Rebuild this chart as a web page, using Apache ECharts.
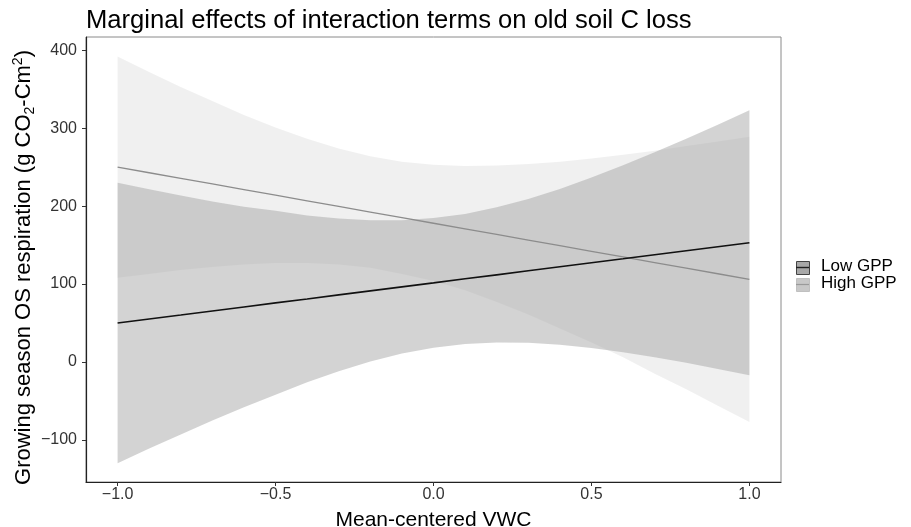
<!DOCTYPE html>
<html>
<head>
<meta charset="utf-8">
<script src="https://cdn.jsdelivr.net/npm/echarts@6/dist/echarts.min.js"></script>
<style>
  html, body { margin: 0; padding: 0; background: #fff; }
  #chart { width: 911px; height: 527px; }
</style>
</head>
<body>
<div id="chart"></div>
<script>
// values
const xs = [-1, -0.9, -0.8, -0.7, -0.6, -0.5, -0.4, -0.3, -0.2, -0.1, 0, 0.1, 0.2, 0.3, 0.4, 0.5, 0.6, 0.7, 0.8, 0.9, 1];

const lowLine  = [50, 55.2, 60.3, 65.5, 70.6, 75.8, 80.9, 86.1, 91.2, 96.4, 101.5, 106.7, 111.8, 117, 122.1, 127.3, 132.4, 137.6, 142.7, 147.9, 153];
const lowUpper = [230, 221.6, 213.6, 206, 199.1, 194, 188, 184, 182, 182, 184.6, 190, 198.4, 209, 222, 236.6, 252.4, 269, 286.6, 304.5, 323];
const lowLower = [-130, -111, -93, -75, -58, -42, -26, -12, 0.6, 11, 18.4, 23, 25, 24.7, 22, 18, 12.4, 6, -1, -9, -17];

const highLine  = [250, 242.8, 235.6, 228.4, 221.2, 214, 206.8, 199.6, 192.4, 185.2, 178, 170.8, 163.6, 156.4, 149.2, 142, 134.8, 127.6, 120.4, 113.2, 106];
const highUpper = [392, 372, 353, 335, 317, 301, 286.5, 274, 264, 257, 253, 251.4, 252, 254, 257, 261, 266, 271, 277, 283, 289];
const highLower = [108, 113, 118, 122, 125, 127, 127, 125, 121, 113, 104, 92, 77, 61, 43, 25, 6, -15, -35, -56, -77];

const xTicks = [-1, -0.5, 0, 0.5, 1];
const yTicks = [-100, 0, 100, 200, 300, 400];
const legendNames = ['Low GPP', 'High GPP'];

const FONT = '"Liberation Sans", Arial, Helvetica, sans-serif';

const chart = echarts.init(document.getElementById('chart'));

const fmtNum = v => (v < 0 ? '\u2212' : '') + Math.abs(v);

// ribbon drawn as one polygon through the axis scales
function band(name, lo, hi, fill, z) {
  return {
    type: 'custom',
    name: name,
    z: z,
    silent: true,
    data: xs.map((x, i) => [x, lo[i], hi[i]]),
    encode: { x: 0, y: [1, 2] },
    renderItem: function (params, api) {
      if (params.dataIndex !== 0) return null;
      const top = xs.map((x, i) => api.coord([x, hi[i]]));
      const bot = xs.map((x, i) => api.coord([x, lo[i]])).reverse();
      return {
        type: 'polygon',
        shape: { points: top.concat(bot) },
        style: { fill: fill }
      };
    }
  };
}

const option = {
  animation: false,
  backgroundColor: '#fff',
  textStyle: { fontFamily: FONT },
  title: {
    text: 'Marginal effects of interaction terms on old soil C loss',
    left: 81,
    top: 3,
    textStyle: { fontFamily: FONT, fontSize: 25.6, fontWeight: 'normal', color: '#000' }
  },
  grid: {
    left: 86, right: 130, top: 37, bottom: 45,
    outerBoundsMode: 'none',
    containLabel: false,
    show: true,
    borderColor: '#8a8a8a',
    borderWidth: 1
  },
  xAxis: {
    type: 'value',
    min: -1.1,
    max: 1.1,
    name: 'Mean-centered VWC',
    nameLocation: 'middle',
    nameGap: 28,
    nameMoveOverlap: false,
    nameTextStyle: { fontFamily: FONT, fontSize: 21, color: '#000' },
    splitLine: { show: false },
    axisLine: { show: true, onZero: false, lineStyle: { color: '#222', width: 1.2 } },
    axisTick: { show: true, length: 4, customValues: xTicks, lineStyle: { color: '#333' } },
    axisLabel: {
      customValues: xTicks,
      margin: 5,
      fontSize: 16,
      color: '#333',
      formatter: v => (v < 0 ? '\u2212' : '') + Math.abs(v).toFixed(1)
    }
  },
  yAxis: {
    type: 'value',
    min: -154,
    max: 417,
    name: 'Growing season OS respiration (g CO{sub|2}-Cm{sup|2})',
    nameLocation: 'middle',
    nameRotate: 90,
    nameGap: 49,
    nameMoveOverlap: false,
    nameTextStyle: {
      fontFamily: FONT, fontSize: 22, color: '#000', lineHeight: 26,
      padding: [0, 16, 0, 0],
      rich: {
        sub: { fontFamily: FONT, fontSize: 14, color: '#000', verticalAlign: 'bottom', lineHeight: 26 },
        sup: { fontFamily: FONT, fontSize: 14, color: '#000', verticalAlign: 'top', lineHeight: 26 }
      }
    },
    splitLine: { show: false },
    axisLine: { show: true, onZero: false, lineStyle: { color: '#222', width: 1.2 } },
    axisTick: { show: true, length: 4, customValues: yTicks, lineStyle: { color: '#333' } },
    axisLabel: {
      customValues: yTicks,
      margin: 9,
      fontSize: 16,
      color: '#333',
      formatter: fmtNum
    }
  },
  series: [
    band('High GPP band', highLower, highUpper, 'rgba(0,0,0,0.06)', 1),
    band('Low GPP band', lowLower, lowUpper, 'rgba(161,161,161,0.47)', 2),
    {
      type: 'line',
      name: legendNames[1],
      z: 3,
      data: xs.map((x, i) => [x, highLine[i]]),
      showSymbol: false,
      silent: true,
      lineStyle: { color: '#8c8c8c', width: 1.3 }
    },
    {
      type: 'line',
      name: legendNames[0],
      z: 4,
      data: xs.map((x, i) => [x, lowLine[i]]),
      showSymbol: false,
      silent: true,
      lineStyle: { color: '#111', width: 1.6 }
    }
  ],
  graphic: [
    // legend keys
    { type: 'rect', left: 796, top: 261, shape: { width: 13, height: 13 },
      style: { fill: '#a8a8a8', stroke: '#444', lineWidth: 1 } },
    { type: 'line', shape: { x1: 796, y1: 267.5, x2: 809, y2: 267.5 },
      style: { stroke: '#222', lineWidth: 1.4 } },
    { type: 'rect', left: 796, top: 278, shape: { width: 13, height: 13 },
      style: { fill: '#c8c8c8', stroke: '#c0c0c0', lineWidth: 1 } },
    { type: 'line', shape: { x1: 796, y1: 284.5, x2: 809, y2: 284.5 },
      style: { stroke: '#9a9a9a', lineWidth: 1.2 } },
    { type: 'text', left: 821, top: 258,
      style: { text: legendNames[0], fontFamily: FONT, fontSize: 17, fill: '#000' } },
    { type: 'text', left: 821, top: 275,
      style: { text: legendNames[1], fontFamily: FONT, fontSize: 17, fill: '#000' } }
  ]
};

chart.setOption(option);
</script>
</body>
</html>
